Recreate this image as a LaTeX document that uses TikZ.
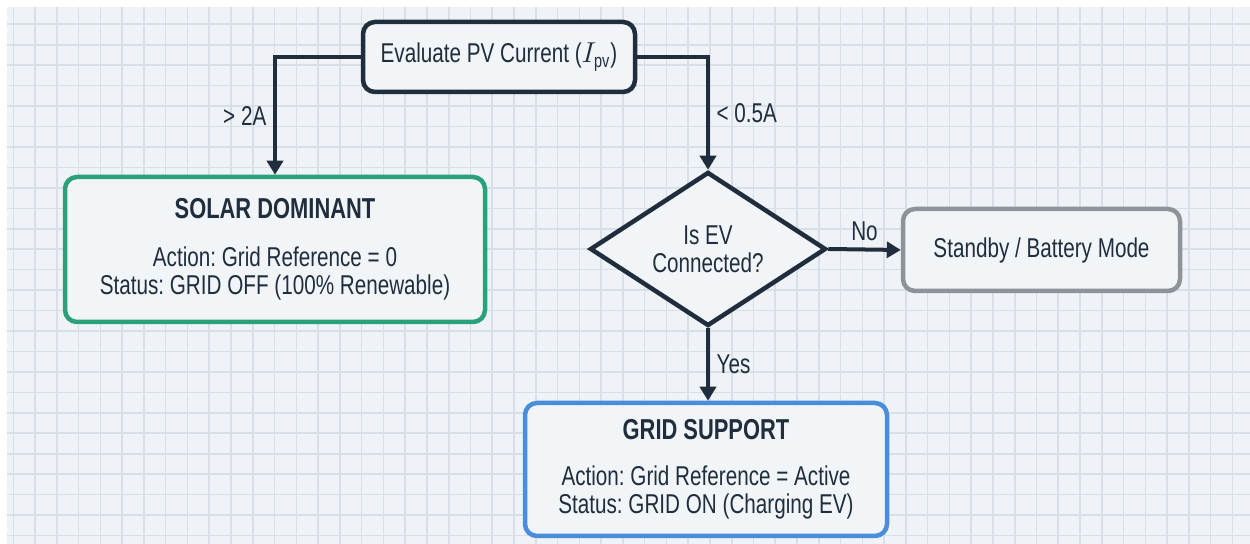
\documentclass[tikz,border=0pt]{standalone}
\usepackage{amsmath}
\usepackage{fontspec}
\setmainfont[FakeStretch=0.76]{Liberation Sans}
\usetikzlibrary{shapes.geometric,arrows.meta}

\definecolor{ink}{HTML}{1F2D3D}
\definecolor{paper}{HTML}{EFF3F7}
\definecolor{gridline}{HTML}{D9DFE6}
\definecolor{boxfill}{HTML}{F2F5F8}
\definecolor{solargreen}{HTML}{2AA17A}
\definecolor{gridblue}{HTML}{4A8EDB}
\definecolor{standbygray}{HTML}{8E9399}

\frenchspacing
\begin{document}
\begin{tikzpicture}[x=0.5pt,y=-0.5pt,>={Triangle[length=7pt,width=8pt]},
  box/.style={draw=ink, rounded corners=6pt, line width=2.25pt, fill=boxfill,
    align=center, text=ink, inner sep=0pt, font=\fontsize{13.6}{14}\selectfont},
  flow/.style={draw=ink, line width=2pt, ->},
  lbl/.style={text=ink, font=\fontsize{13.6}{14}\selectfont}]

% squared paper
\useasboundingbox (0,0) rectangle (1250,544);
\fill[white] (0,0) rectangle (1250,544);
\fill[paper] (7,7) rectangle (1250,544);
\begin{scope}
  \clip (7,7) rectangle (1250,544);
  \foreach \k in {0,...,56}
    \draw[gridline, line width=0.8pt] ({13.3+21.77*\k},7) -- ++(0,537);
  \foreach \k in {0,...,25}
    \draw[gridline, line width=0.8pt] (7,{24.3+20.45*\k}) -- ++(1243,0);
\end{scope}

\node[box, minimum width=136pt, minimum height=35pt] (eval) at (499,57)
  {Evaluate PV Current ($I_{\textrm{pv}}$)};
\node[box, draw=solargreen, minimum width=210pt, minimum height=72.5pt] (solar) at (275,249.5)
  {{\fontsize{14.4}{15}\selectfont\bfseries SOLAR DOMINANT}\\[10pt]
   Action: Grid Reference = 0\\ Status: GRID OFF (100\% Renewable)};
\node[diamond, draw=ink, line width=2.25pt, fill=boxfill, shape aspect=1.5,
  minimum width=118pt, minimum height=77pt, inner sep=0pt, align=center, text=ink,
  font=\fontsize{13.6}{14}\selectfont] (evcheck) at (708,249) {Is EV\\Connected?};
\node[box, draw=standbygray, minimum width=138.5pt, minimum height=41pt] (standby) at (1041.5,250)
  {Standby / Battery Mode};
\node[box, draw=gridblue, minimum width=181pt, minimum height=66.5pt] (gridsup) at (706,469.5)
  {{\fontsize{14.4}{15}\selectfont\bfseries GRID SUPPORT}\\[9pt]
   Action: Grid Reference = Active\\ Status: GRID ON (Charging EV)};

\draw[flow] (eval.west) -| (solar.north) node[pos=0.75, left, lbl] {> 2A};
\draw[flow] (eval.east) -| (evcheck.north) node[pos=0.75, right, lbl] {< 0.5A};
\draw[flow] (evcheck.east) -- (standby.west) node[midway, above, lbl] {No};
\draw[flow] (evcheck.south) -- (evcheck.south |- gridsup.north) node[midway, right, lbl] {Yes};
\end{tikzpicture}
\end{document}
